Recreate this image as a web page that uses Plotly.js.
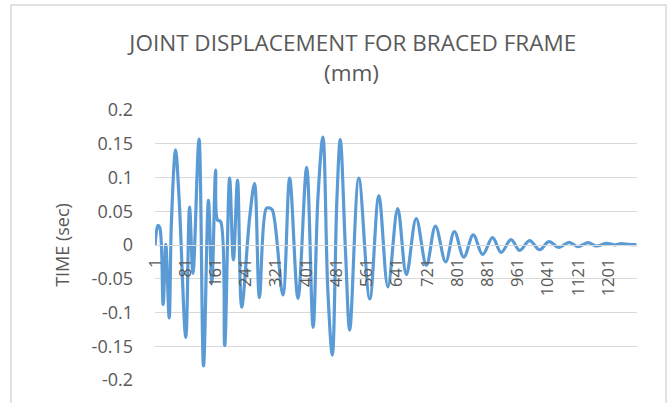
<!DOCTYPE html>
<html>
<head>
<meta charset="utf-8">
<script src="https://cdn.plot.ly/plotly-3.0.1.min.js"></script>
<style>
html,body{margin:0;padding:0;background:#fff;}
#chart{width:672px;height:403px;}
</style>
</head>
<body>
<div id="chart"></div>
<script>
// Sample index (category) and displacement values read at the peaks, troughs and kinks of the trace
var sampleIndex = [1, 8, 13, 22, 29, 38, 44, 55, 64, 82, 92, 101, 117, 129, 142, 151, 161, 166, 174, 185,
  198, 208, 219, 230, 251, 264, 277, 295, 303, 311, 339, 357, 379, 402, 419, 432, 445, 458, 470, 482,
  491, 505, 516, 540, 569, 593, 617, 643, 666, 692, 719, 743, 770, 793, 818, 843, 868, 894, 917, 943,
  966, 992, 1019, 1043, 1070, 1097, 1120, 1147, 1169, 1195, 1217, 1235, 1254, 1275];
var displacement = [0, 0.029, 0.026, -0.088, 0.001, -0.108, 0.035, 0.141, 0.072, -0.137, 0.056, -0.042, 0.157, -0.179, 0.066, -0.056, 0.111, 0.037, 0.035, -0.149,
  0.099, -0.022, 0.096, -0.092, 0.040, 0.091, -0.078, 0.054, 0.055, 0.052, -0.074, 0.099, -0.079, 0.115, -0.122, 0.072, 0.160, -0.067, -0.163, 0.067,
  0.156, -0.012, -0.126, 0.099, -0.080, 0.073, -0.062, 0.054, -0.044, 0.039, -0.030, 0.028, -0.025, 0.020, -0.018, 0.015, -0.014, 0.011, -0.011, 0.008,
  -0.008, 0.0065, -0.007, 0.005, -0.0035, 0.004, -0.0025, 0.0035, -0.0015, 0.0025, 0.0003, 0.002, 0.0008, 0.0005];
var categoryCount = 1276;
var xTickVals = [1, 81, 161, 241, 321, 401, 481, 561, 641, 721, 801, 881, 961, 1041, 1121, 1201];
var xTickLabels = ["1", "81", "161", "241", "321", "401", "481", "561", "641", "721", "801", "881", "961", "1041", "1121", "1201"];
var yTickVals = [-0.2, -0.15, -0.1, -0.05, 0, 0.05, 0.1, 0.15, 0.2];
var yTickLabels = ["-0.2", "-0.15", "-0.1", "-0.05", "0", "0.05", "0.1", "0.15", "0.2"];
var chartTitle = "JOINT DISPLACEMENT FOR BRACED FRAME";
var chartSubtitle = "(mm)";
var yTitle = "TIME (sec)";

var textColor = "#595959";
var gridColor = "#d9d9d9";
var fontFam = "Open Sans, Lato, sans-serif";

var trace = {
  x: sampleIndex,
  y: displacement,
  type: "scatter",
  mode: "lines",
  line: {color: "#5B9BD5", width: 3.2, shape: "spline", smoothing: 1},
  hoverinfo: "skip"
};

var layout = {
  width: 672, height: 403,
  margin: {l: 155, r: 35, t: 110, b: 23, pad: 0},
  paper_bgcolor: "#ffffff",
  plot_bgcolor: "#ffffff",
  showlegend: false,
  title: {
    text: chartTitle,
    font: {family: fontFam, size: 22.5, color: textColor, weight: 400},
    xref: "container", x: 0.525, xanchor: "center",
    yref: "container", y: 0.894, yanchor: "middle"
  },
  annotations: [{
    text: chartSubtitle, showarrow: false,
    xref: "paper", yref: "paper", x: 0.4087, y: 1.139,
    xanchor: "center", yanchor: "middle",
    font: {family: fontFam, size: 22.5, color: textColor}
  }],
  xaxis: {
    range: [0.5, categoryCount + 0.5],
    anchor: "free", position: 0.5,
    tickmode: "array", tickvals: xTickVals, ticktext: xTickLabels,
    tickangle: -90,
    tickfont: {family: fontFam, size: 16.5, color: textColor},
    ticks: "", ticklabelstandoff: 6,
    showgrid: false, zeroline: false,
    showline: true, linecolor: gridColor, linewidth: 1,
    fixedrange: true
  },
  yaxis: {
    range: [-0.2, 0.2],
    tickmode: "array", tickvals: yTickVals, ticktext: yTickLabels,
    tickfont: {family: fontFam, size: 18, color: textColor},
    ticks: "", ticklabelstandoff: 21,
    showgrid: true, gridcolor: gridColor, gridwidth: 1,
    zeroline: false, showline: false,
    title: {text: yTitle, font: {family: fontFam, size: 18, color: textColor}, standoff: 17},
    automargin: false,
    fixedrange: true
  },
  shapes: [{
    type: "rect", xref: "paper", yref: "paper",
    x0: -0.2988, x1: 1.0602, y0: -0.12, y1: 1.3889,
    line: {color: gridColor, width: 1.5}, fillcolor: "rgba(0,0,0,0)", layer: "below"
  }]
};

Plotly.newPlot("chart", [trace], layout, {staticPlot: true, displayModeBar: false});
</script>
</body>
</html>
